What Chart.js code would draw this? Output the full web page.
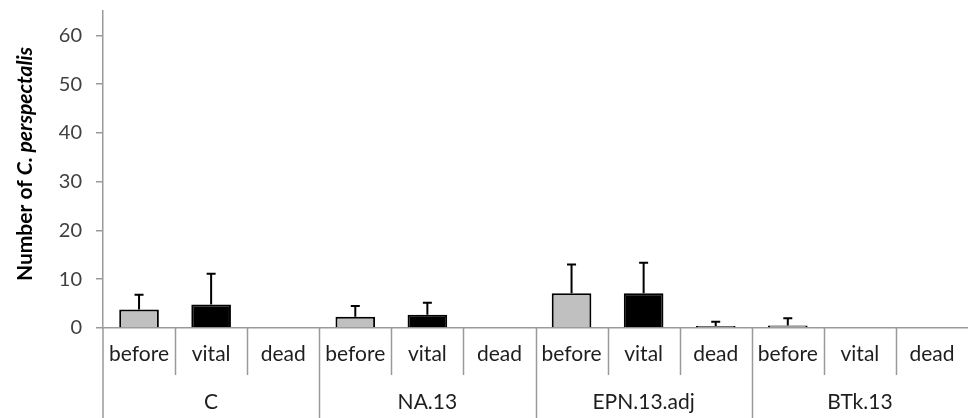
<!DOCTYPE html>
<html>
<head>
<meta charset="utf-8">
<script src="https://cdn.jsdelivr.net/npm/chart.js@4/dist/chart.umd.min.js"></script>
<style>
  html, body { margin: 0; padding: 0; background: #fff; }
  #wrap { width: 968px; height: 418px; }
</style>
</head>
<body>
<div id="wrap"><canvas id="chart" width="968" height="418"></canvas></div>
<script>
// data
const subLabels = ['before', 'vital', 'dead', 'before', 'vital', 'dead', 'before', 'vital', 'dead', 'before', 'vital', 'dead'];
const groupLabels = ['C', 'NA.13', 'EPN.13.adj', 'BTk.13'];
const meanValues = [3.8, 4.8, 0, 2.3, 2.7, 0, 7.1, 7.1, 0.4, 0.5, 0, 0];
const errorPlus = [3.0, 6.3, 0, 2.2, 2.5, 0, 5.9, 6.3, 0.9, 1.5, 0, 0];
const yTicks = [0, 10, 20, 30, 40, 50, 60];

const FONT = 'Lato, "Open Sans", sans-serif';
const AXIS_GREY = '#9a9a9a';
const fillFor = { before: '#c0c0c0', vital: '#000000', dead: '#ffffff' };

const multiLevelAxis = {
  id: 'multiLevelAxis',
  afterDraw(chart) {
    const { ctx, chartArea, scales } = chart;
    const x = scales.x, y = scales.y;
    const half = (x.getPixelForValue(1) - x.getPixelForValue(0)) / 2;
    const bottom = chartArea.bottom;
    ctx.save();

    // error bars (plus side only)
    ctx.strokeStyle = '#000';
    ctx.lineWidth = 2;
    meanValues.forEach((v, i) => {
      if (!errorPlus[i]) return;
      const cx = x.getPixelForValue(i);
      const y0 = y.getPixelForValue(v);
      const y1 = y.getPixelForValue(v + errorPlus[i]);
      ctx.beginPath();
      ctx.moveTo(cx, y0); ctx.lineTo(cx, y1);
      ctx.moveTo(cx - 4.5, y1); ctx.lineTo(cx + 4.5, y1);
      ctx.stroke();
    });

    // separators below the axis
    ctx.strokeStyle = AXIS_GREY;
    ctx.lineWidth = 1.5;
    ctx.beginPath();
    ctx.moveTo(chartArea.left, bottom); ctx.lineTo(chartArea.left, chart.height);
    for (let i = 1; i < subLabels.length; i++) {
      const xb = Math.round(x.getPixelForValue(i) - half) + 0.5;
      ctx.moveTo(xb, bottom);
      ctx.lineTo(xb, i % 3 === 0 ? chart.height : bottom + 47);
    }
    ctx.stroke();

    // labels
    ctx.fillStyle = '#1e1e1e';
    ctx.textAlign = 'center';
    ctx.textBaseline = 'middle';
    ctx.font = '21px ' + FONT;
    subLabels.forEach((t, i) => ctx.fillText(t, x.getPixelForValue(i), bottom + 26));
    groupLabels.forEach((t, g) => ctx.fillText(t, x.getPixelForValue(g * 3 + 1), bottom + 74));

    // y title with italic species name
    ctx.translate(25, 164);
    ctx.rotate(-Math.PI / 2);
    ctx.textAlign = 'left';
    ctx.fillStyle = '#000';
    const partA = 'Number of ';
    const partB = 'C. perspectalis';
    ctx.font = 'bold 21px ' + FONT;
    const wA = ctx.measureText(partA).width;
    ctx.font = 'italic bold 21px ' + FONT;
    const wB = ctx.measureText(partB).width;
    const start = -(wA + wB) / 2;
    ctx.font = 'bold 21px ' + FONT;
    ctx.fillText(partA, start, 0);
    ctx.font = 'italic bold 21px ' + FONT;
    ctx.fillText(partB, start + wA, 0);
    ctx.restore();
  }
};

new Chart(document.getElementById('chart'), {
  type: 'bar',
  data: {
    labels: subLabels,
    datasets: [{
      data: meanValues,
      backgroundColor: subLabels.map(s => fillFor[s]),
      borderColor: '#000',
      borderWidth: 2,
      barPercentage: 0.55,
      categoryPercentage: 1
    }]
  },
  options: {
    responsive: false,
    animation: false,
    layout: { padding: { top: 11, right: 0, bottom: 0, left: 0 } },
    plugins: { legend: { display: false }, tooltip: { enabled: false } },
    scales: {
      x: {
        ticks: { display: false },
        grid: { display: false },
        border: { color: AXIS_GREY, width: 1.5 },
        afterFit: s => { s.height = 90; }
      },
      y: {
        min: 0,
        max: 65,
        afterBuildTicks: s => { s.ticks = yTicks.map(v => ({ value: v })); },
        ticks: { color: '#404040', font: { family: FONT, size: 20 }, padding: 14 },
        grid: { drawOnChartArea: false, color: AXIS_GREY, tickLength: 7, lineWidth: 1.5 },
        border: { color: AXIS_GREY, width: 1.5 },
        afterFit: s => { s.width = 103; s.paddingTop = 0; s.paddingBottom = 0; }
      }
    }
  },
  plugins: [multiLevelAxis]
});
</script>
</body>
</html>
